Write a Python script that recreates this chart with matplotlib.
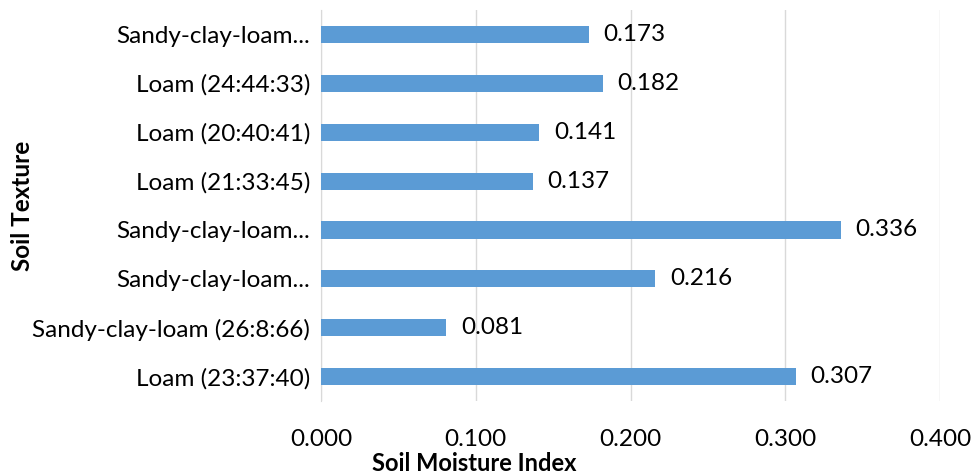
import matplotlib
matplotlib.use("Agg")
import matplotlib.pyplot as plt

plt.rcParams['font.family'] = ['Lato', 'DejaVu Sans']

# soil texture classes, bottom to top
textures = ['Loam (23:37:40)', 'Sandy-clay-loam (26:8:66)', 'Sandy-clay-loam...',
            'Sandy-clay-loam...', 'Loam (21:33:45)', 'Loam (20:40:41)',
            'Loam (24:44:33)', 'Sandy-clay-loam...']
smi = [0.307, 0.081, 0.216, 0.336, 0.137, 0.141, 0.182, 0.173]
xticks = [0.0, 0.1, 0.2, 0.3, 0.4]

fig = plt.figure(figsize=(9.73, 4.73), dpi=100)
ax = fig.add_axes([0.330, 0.152, 0.636, 0.827])

pos = list(range(len(textures)))
ax.barh(pos, smi, height=0.35, color='#5B9BD5', zorder=3)
for p, v in zip(pos, smi):
    ax.text(v + 0.0095, p, f'{v:.3f}', va='center', ha='left', fontsize=17.5, color='#000000')

ax.set_xlim(0, 0.4)
ax.set_ylim(-0.5, len(textures) - 0.5)
ax.set_xticks(xticks)
ax.set_xticklabels([f'{t:.3f}' for t in xticks])
ax.set_yticks(pos)
ax.set_yticklabels(textures)
ax.tick_params(axis='x', length=0, pad=20, labelsize=17.5)
ax.tick_params(axis='y', length=0, pad=8, labelsize=17.5)
ax.grid(axis='x', color='#D9D9D9', lw=1, zorder=0)
for s in ['top', 'right', 'bottom']:
    ax.spines[s].set_visible(False)
ax.spines['left'].set_color('#D9D9D9')

fig.text(0.487, 0.021, 'Soil Moisture Index', ha='center', va='center', fontsize=17, fontweight='bold')
fig.text(0.023, 0.565, 'Soil Texture', ha='center', va='center', rotation=90, fontsize=17.5, fontweight='bold')

fig.savefig('out.png', dpi=100)
